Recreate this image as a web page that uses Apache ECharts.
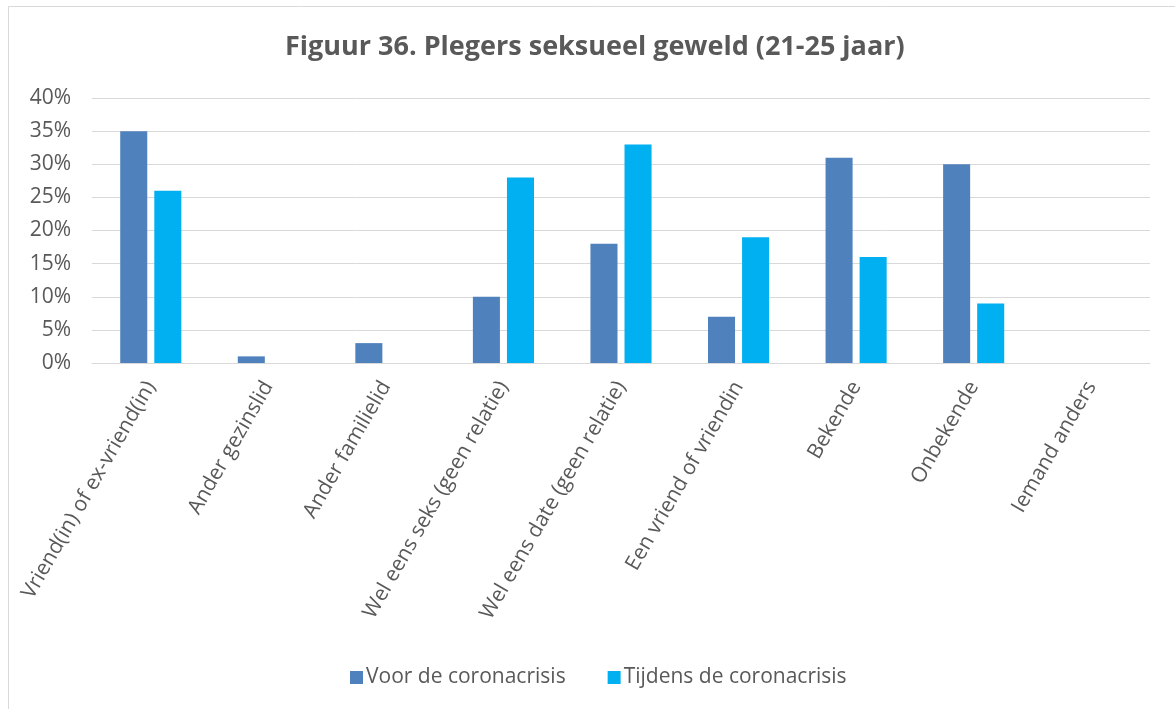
<!DOCTYPE html>
<html>
<head>
<meta charset="utf-8">
<script src="https://cdn.jsdelivr.net/npm/echarts@6/dist/echarts.min.js"></script>
<style>
  html, body { margin: 0; padding: 0; background: #fff; }
  #chart { width: 1175px; height: 709px; }
</style>
</head>
<body>
<div id="chart"></div>
<script>
const titleText = 'Figuur 36. Plegers seksueel geweld (21-25 jaar)';
const categories = [
  'Vriend(in) of ex-vriend(in)',
  'Ander gezinslid',
  'Ander familielid',
  'Wel eens seks (geen relatie)',
  'Wel eens date (geen relatie)',
  'Een vriend of vriendin',
  'Bekende',
  'Onbekende',
  'Iemand anders'
];
const seriesNames = ['Voor de coronacrisis', 'Tijdens de coronacrisis'];
const voorValues = [35, 1, 3, 10, 18, 7, 31, 30, 0];
const tijdensValues = [26, 0, 0, 28, 33, 19, 16, 9, 0];
const yTicks = [0, 5, 10, 15, 20, 25, 30, 35, 40];

const textColor = '#595959';
const fontFamily = '"Open Sans", "Noto Sans", sans-serif';

const chart = echarts.init(document.getElementById('chart'), null, { renderer: 'canvas' });
chart.setOption({
  animation: false,
  backgroundColor: '#ffffff',
  color: ['#4f81bd', '#00b0f0'],
  graphic: [{
    type: 'rect',
    shape: { x: 8.5, y: 6.5, width: 1300, height: 900 },
    style: { fill: 'none', stroke: '#d9d9d9', lineWidth: 1 },
    silent: true
  }],
  title: {
    text: titleText,
    left: 280,
    top: 29,
    textStyle: { fontFamily: fontFamily, fontSize: 27, fontWeight: 'bold', color: textColor }
  },
  legend: {
    data: seriesNames,
    bottom: 16,
    left: 345,
    itemWidth: 13,
    itemHeight: 13,
    itemGap: 42,
    icon: 'rect',
    textStyle: { fontFamily: fontFamily, fontSize: 21, color: textColor, padding: [0, 0, 0, -2] }
  },
  grid: { left: 92, right: 25, top: 98, bottom: 346, containLabel: false },
  xAxis: {
    type: 'category',
    data: categories,
    axisLine: { show: true, lineStyle: { color: '#d9d9d9' } },
    axisTick: { show: false },
    axisLabel: {
      interval: 0,
      rotate: 60,
      margin: 20,
      fontFamily: fontFamily,
      fontSize: 21,
      color: textColor
    }
  },
  yAxis: {
    type: 'value',
    min: 0,
    max: 40,
    interval: 5,
    axisLine: { show: false },
    axisTick: { show: false },
    splitLine: { lineStyle: { color: '#d9d9d9', width: 1 } },
    axisLabel: {
      formatter: function (v) { return yTicks.includes(v) ? v + '%' : ''; },
      fontFamily: fontFamily,
      fontSize: 21,
      color: textColor,
      margin: 21
    }
  },
  series: [
    {
      name: seriesNames[0],
      type: 'bar',
      data: voorValues,
      barWidth: '23%',
      barGap: '26%'
    },
    {
      name: seriesNames[1],
      type: 'bar',
      data: tijdensValues,
      barWidth: '23%',
      barGap: '26%'
    }
  ]
});
</script>
</body>
</html>
